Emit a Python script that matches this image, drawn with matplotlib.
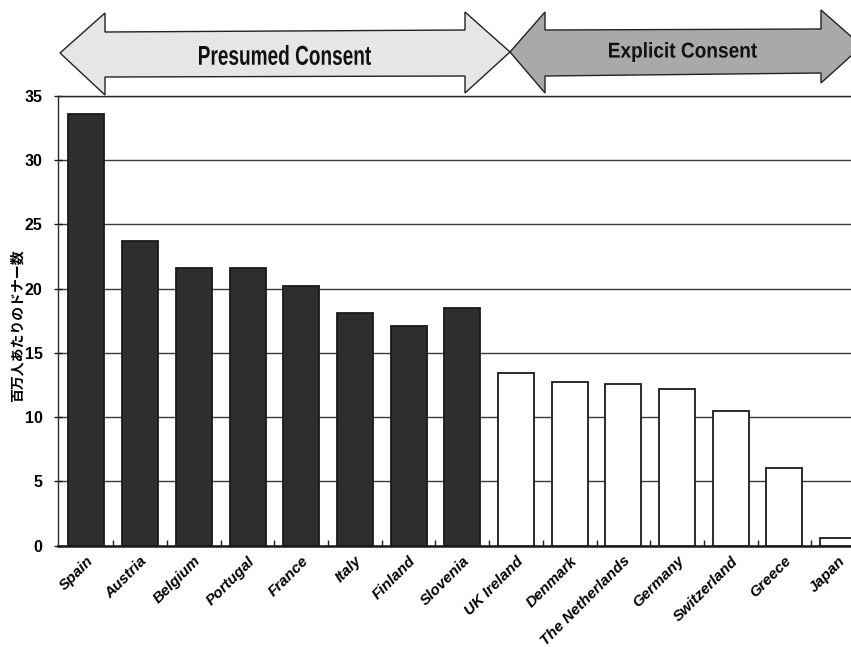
import matplotlib
matplotlib.use("Agg")
import matplotlib.pyplot as plt
from matplotlib.patches import Polygon, PathPatch
from matplotlib.textpath import TextPath
from matplotlib.font_manager import FontProperties
from matplotlib import font_manager
from matplotlib.transforms import Affine2D, IdentityTransform, ScaledTranslation

countries = ["Spain", "Austria", "Belgium", "Portugal", "France", "Italy",
             "Finland", "Slovenia", "UK Ireland", "Denmark", "The Netherlands",
             "Germany", "Switzerland", "Greece", "Japan"]
donors_per_million = [33.6, 23.7, 21.6, 21.6, 20.2, 18.1, 17.1, 18.5,
                      13.4, 12.7, 12.6, 12.2, 10.5, 6.0, 0.6]
consent_system = ["presumed"] * 8 + ["explicit"] * 7
yticks = [0, 5, 10, 15, 20, 25, 30, 35]
ylabel = "百万人あたりのドナー数"
group_titles = ["Presumed Consent", "Explicit Consent"]


def pick_font(style, size):
    """Prefer a narrow bold sans face; fall back to regular bold sans."""
    for f in font_manager.fontManager.ttflist:
        name = f.fname.lower()
        if "liberation" in name and "narrow" in name and f.weight in ("bold", 700) \
                and f.style == style:
            return FontProperties(fname=f.fname, size=size)
    fam = "Liberation Sans"
    return FontProperties(family=fam, weight="bold", style=style, size=size)


W, H = 851, 647
fig = plt.figure(figsize=(W / 100, H / 100), dpi=100)
fig.patch.set_facecolor("white")


def fx(x):
    return x / W


def fy(y):
    return 1 - y / H


# axes: left spine at px 58, baseline at px 545.5, top at px 96
ax = fig.add_axes([fx(58), fy(545.5), 1 - fx(58), fy(96) - fy(545.5)])

xs = list(range(len(countries)))
colors = ["#2e2e2e" if c == "presumed" else "white" for c in consent_system]
ax.bar(xs, donors_per_million, width=0.67, color=colors, edgecolor="#1a1a1a",
       linewidth=1.3, zorder=3)

ax.set_xlim(-0.53, 14.24)
ax.set_ylim(0, 35)
ax.set_yticks(yticks)
ax.set_yticklabels([str(t) for t in yticks],
                   fontproperties=pick_font("normal", 11.5))
ax.yaxis.grid(True, color="#3a3a3a", linewidth=1.0, zorder=0)
ax.set_axisbelow(True)

ax.set_xticks(xs)
ax.set_xticklabels(countries, rotation=45, ha="right", va="top",
                   rotation_mode="anchor",
                   fontproperties=pick_font("italic", 11))
shift = ScaledTranslation(-5 / 100, -1 / 100, fig.dpi_scale_trans)
for lab in ax.get_xticklabels():
    lab.set_transform(lab.get_transform() + shift)
ax.tick_params(axis="x", which="major", length=0, pad=6)
ax.set_xticks([i + 0.5 for i in range(len(countries) - 1)], minor=True)
ax.tick_params(axis="x", which="minor", direction="in", length=4, width=1,
               color="#1a1a1a")
ax.tick_params(axis="y", direction="inout", length=6, width=1,
               color="#1a1a1a", pad=8)

for side in ["left", "top"]:
    ax.spines[side].set_linewidth(1.0)
    ax.spines[side].set_color("#2a2a2a")
ax.spines["bottom"].set_linewidth(1.8)
ax.spines["bottom"].set_color("#1a1a1a")
ax.spines["right"].set_visible(False)

fig.text(fx(18), fy(326), ylabel, rotation=90, ha="center", va="center",
         family=["Noto Sans CJK JP", "DejaVu Sans"], fontsize=10,
         fontweight="bold")

# double-headed group arrows above the plot (pixel coordinates)
presumed = [(60, 53), (105, 13), (105, 32), (465, 30), (465, 12), (510, 52),
            (465, 93), (465, 76), (105, 77), (105, 95)]
explicit = [(510, 52), (545, 12), (545, 30), (821, 29), (821, 10), (862, 46),
            (821, 83), (821, 73), (545, 76), (545, 93)]
for pts, fill in [(presumed, "#e6e6e6"), (explicit, "#a9a9a9")]:
    poly = Polygon([(fx(x), fy(y)) for x, y in pts], closed=True,
                   facecolor=fill, edgecolor="#222222", linewidth=1.0,
                   transform=fig.transFigure, zorder=5)
    fig.patches.append(poly)


def fitted_text(s, cx, cy, width_px, height_px):
    """Draw bold text scaled to a given ink box, centred at pixel (cx, cy from top)."""
    path = TextPath((0, 0), s, size=20, prop=pick_font("normal", 20))
    ext = path.get_extents()
    tr = (Affine2D()
          .translate(-(ext.x0 + ext.x1) / 2, -(ext.y0 + ext.y1) / 2)
          .scale(width_px / ext.width, height_px / ext.height)
          .translate(cx, H - cy))
    patch = PathPatch(tr.transform_path(path), facecolor="#111111",
                      edgecolor="none", transform=IdentityTransform(), zorder=6)
    fig.patches.append(patch)


fitted_text(group_titles[0], 285, 55, 172, 20)
fitted_text(group_titles[1], 683, 52, 148, 20)

fig.savefig("out.png", dpi=100, facecolor="white")
